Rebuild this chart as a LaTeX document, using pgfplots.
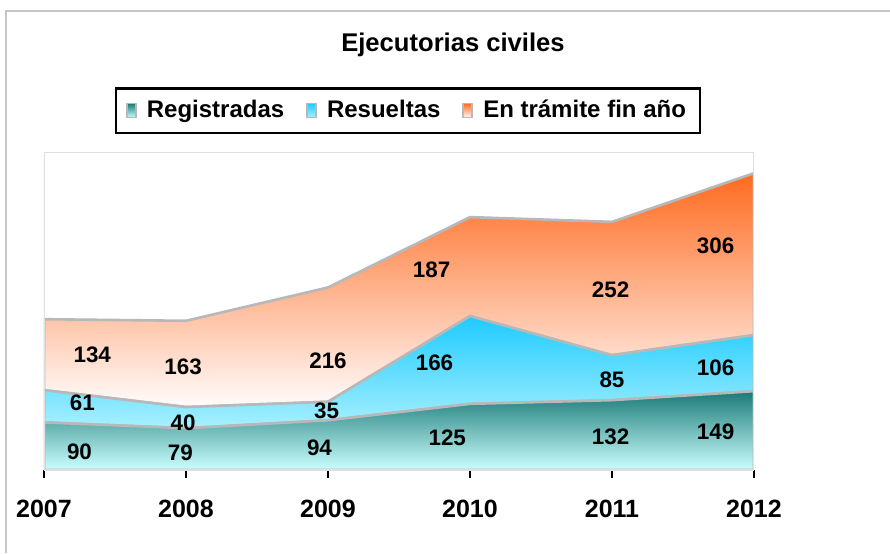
\documentclass[border=0pt]{standalone}
\usepackage{pgfplots}
\pgfplotsset{compat=1.18}
\usepgfplotslibrary{fillbetween}
\usepackage{fontspec}
\setmainfont{Liberation Sans}
\definecolor{tealT}{HTML}{1A7A78}
\definecolor{tealB}{HTML}{CCFFFF}
\definecolor{blueT}{HTML}{1ECBFF}
\definecolor{blueB}{HTML}{A8F0FF}
\definecolor{redT}{HTML}{FF6A1F}
\definecolor{redM}{HTML}{FFDCD8}
\definecolor{redB}{HTML}{FFFCFC}
\definecolor{edge}{HTML}{B8B8B8}
\tikzset{lbl/.style={font=\bfseries\fontsize{11.2}{13}\selectfont}}
\begin{document}
\begin{tikzpicture}
\useasboundingbox (-22pt,-41.5pt) rectangle (423pt,235pt);
\draw[gray!45, line width=0.6pt] (423pt,229.5pt) -- (-19pt,229.5pt) -- (-19pt,-41.5pt);
\begin{axis}[
  at={(0pt,0pt)}, anchor=south west,
  scale only axis, width=355pt, height=159pt,
  xmin=0, xmax=5, ymin=0, ymax=601,
  stack plots=y,
  axis x line*=bottom, hide y axis,
  x axis line style={black, line width=1pt, -},
  xtick={0,...,5}, xticklabels={2007,2008,2009,2010,2011,2012},
  tick style={black, line width=1pt}, tick align=outside, major tick length=4pt,
  xticklabel style={font=\bfseries\fontsize{12.5}{14}\selectfont, yshift=-7.5pt},
  legend columns=-1,
  legend image code/.code={\draw[#1, line width=0.9pt] (0pt,-3.5pt) rectangle (4.5pt,3.5pt);},
  legend style={at={(axis description cs:0.5127,1.1305)}, anchor=center,
    draw=black, line width=1.3pt, inner ysep=4pt, inner xsep=5pt,
    font=\bfseries\fontsize{12}{14}\selectfont,
    /tikz/every odd column/.append style={column sep=3pt},
    /tikz/every even column/.append style={column sep=9pt}},
]
\draw[gray!25, line width=0.6pt] (rel axis cs:0,0) rectangle (rel axis cs:1,1);
\addplot[draw=edge, line width=1.3pt, top color=tealT, bottom color=tealB]
  coordinates {(0,90)(1,79)(2,94)(3,125)(4,132)(5,149)} \closedcycle;
\addplot[draw=edge, line width=1.3pt, top color=blueT, bottom color=blueB]
  coordinates {(0,61)(1,40)(2,35)(3,166)(4,85)(5,106)} \closedcycle;
\addplot[draw=edge, line width=1.3pt, top color=redT, middle color=redM, bottom color=redB]
  coordinates {(0,134)(1,163)(2,216)(3,187)(4,252)(5,306)} \closedcycle;
\legend{Registradas,Resueltas,En trámite fin año}
\end{axis}
\begin{axis}[
  at={(0pt,0pt)}, anchor=south west,
  scale only axis, width=355pt, height=159pt,
  xmin=0, xmax=5, ymin=0, ymax=601, hide axis,
]
\node[lbl] at (axis cs:0.25,34) {90};
\node[lbl] at (axis cs:0.96,32) {79};
\node[lbl] at (axis cs:1.94,42) {94};
\node[lbl] at (axis cs:2.84,60) {125};
\node[lbl] at (axis cs:3.99,62) {132};
\node[lbl] at (axis cs:4.73,72) {149};
\node[lbl] at (axis cs:0.27,127) {61};
\node[lbl] at (axis cs:0.98,89) {40};
\node[lbl] at (axis cs:1.99,112) {35};
\node[lbl] at (axis cs:2.75,202) {166};
\node[lbl] at (axis cs:4.0,170) {85};
\node[lbl] at (axis cs:4.73,193) {106};
\node[lbl] at (axis cs:0.34,217) {134};
\node[lbl] at (axis cs:0.98,195) {163};
\node[lbl] at (axis cs:2.0,206) {216};
\node[lbl] at (axis cs:2.73,378) {187};
\node[lbl] at (axis cs:3.99,340) {252};
\node[lbl] at (axis cs:4.73,423) {306};
\end{axis}
\node[font=\bfseries\fontsize{12.8}{15}\selectfont] at (204.5pt,212.5pt) {Ejecutorias civiles};
\end{tikzpicture}
\end{document}
